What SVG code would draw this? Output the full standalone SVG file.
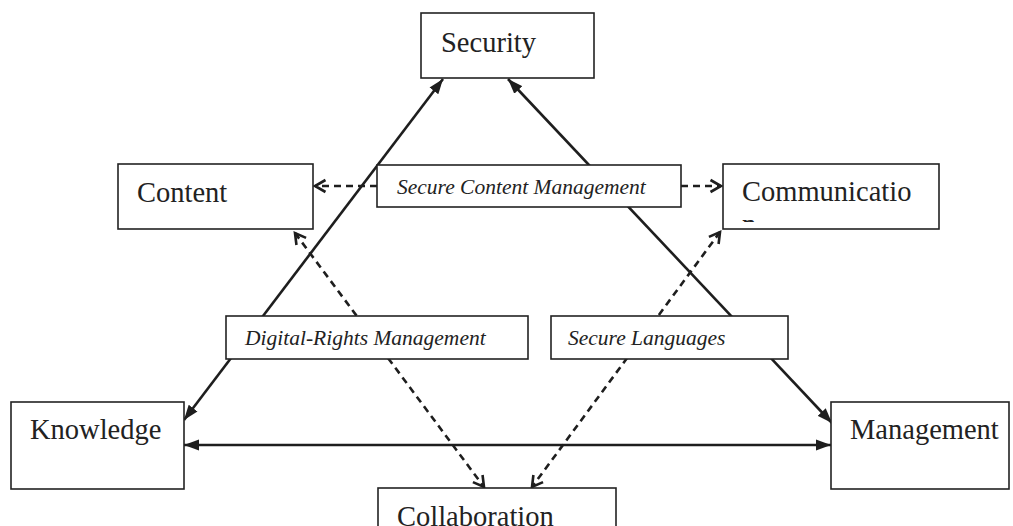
<svg xmlns="http://www.w3.org/2000/svg" width="1013" height="526" viewBox="0 0 1013 526">
  <style>
    .box { fill: #fff; stroke: #222; stroke-width: 1.6; }
    .lbl { font-family: "Liberation Serif", "Times New Roman", serif; font-size: 28.5px; fill: #222; }
    .itl { font-family: "Liberation Serif", "Times New Roman", serif; font-size: 21.5px; font-style: italic; fill: #222; }
    .solid { stroke: #1e1e1e; stroke-width: 2.6; fill: none; marker-start: url(#ah); marker-end: url(#ah); }
    .dash { stroke: #1e1e1e; stroke-width: 2.6; fill: none; stroke-dasharray: 7 5; }
  </style>
  <defs>
    <marker id="ah" markerUnits="userSpaceOnUse" markerWidth="16" markerHeight="12" refX="15" refY="6" orient="auto-start-reverse">
      <path d="M0,0.5 L15,6 L0,11.5 z" fill="#1e1e1e"/>
    </marker>
    <marker id="oh" markerUnits="userSpaceOnUse" markerWidth="16" markerHeight="16" refX="12" refY="8" orient="auto-start-reverse">
      <path d="M1.5,2 L12,8 L1.5,14" fill="none" stroke="#1e1e1e" stroke-width="2.6" stroke-linejoin="miter"/>
    </marker>
    <clipPath id="commclip">
      <rect x="723" y="164" width="216" height="58"/>
    </clipPath>
  </defs>

  <g id="connectors">
    <line class="solid" x1="184" y1="420" x2="443" y2="79"/>
    <line class="solid" x1="508" y1="79" x2="832" y2="423"/>
    <line class="solid" x1="184" y1="445" x2="831" y2="445"/>
    <line class="dash" x1="377" y1="186" x2="315" y2="186" marker-end="url(#oh)"/>
    <line class="dash" x1="681" y1="186" x2="721" y2="186" marker-end="url(#oh)"/>
    <line class="dash" x1="295" y1="233" x2="484" y2="487" marker-start="url(#oh)" marker-end="url(#oh)"/>
    <line class="dash" x1="720" y1="232" x2="532" y2="487" marker-start="url(#oh)" marker-end="url(#oh)"/>
  </g>

  <g id="security">
    <rect class="box" x="421" y="13" width="173" height="65"/>
    <text class="lbl" x="441" y="52">Security</text>
  </g>
  <g id="content">
    <rect class="box" x="118" y="164" width="195" height="65"/>
    <text class="lbl" x="137" y="202">Content</text>
  </g>
  <g id="communication">
    <rect class="box" x="723" y="164" width="216" height="65"/>
    <text class="lbl" x="742" y="201">Communicatio</text>
    <text class="lbl" x="742" y="234" clip-path="url(#commclip)">n</text>
  </g>
  <g id="secure-content-management">
    <rect class="box" x="377" y="165" width="304" height="42"/>
    <text class="itl" x="397" y="194">Secure Content Management</text>
  </g>
  <g id="digital-rights-management">
    <rect class="box" x="226" y="316" width="302" height="43"/>
    <text class="itl" x="245" y="345">Digital-Rights Management</text>
  </g>
  <g id="secure-languages">
    <rect class="box" x="551" y="316" width="237" height="43"/>
    <text class="itl" x="568" y="345">Secure Languages</text>
  </g>
  <g id="knowledge">
    <rect class="box" x="11" y="402" width="173" height="87"/>
    <text class="lbl" x="30" y="439">Knowledge</text>
  </g>
  <g id="management">
    <rect class="box" x="831" y="402" width="178" height="87"/>
    <text class="lbl" x="850" y="439">Management</text>
  </g>
  <g id="collaboration">
    <rect class="box" x="378" y="488" width="238" height="60"/>
    <text class="lbl" x="397" y="526">Collaboration</text>
  </g>
</svg>
